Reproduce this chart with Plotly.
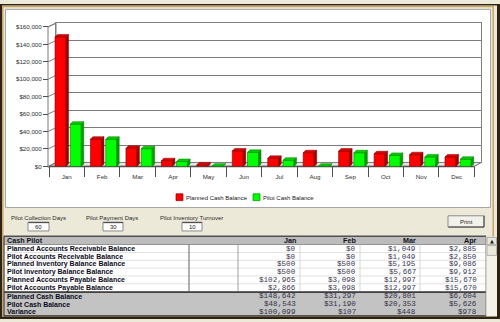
import plotly.graph_objects as go

W, H = 500, 322
def X(px): return px / W
def Y(py): return 1 - py / H

# ---------------- data ----------------
months = ['Jan', 'Feb', 'Mar', 'Apr', 'May', 'Jun', 'Jul', 'Aug', 'Sep', 'Oct', 'Nov', 'Dec']
planned_cash = [148642, 31297, 20801, 6604, 1800, 17800, 9300, 15700, 17600, 14600, 13500, 10900]
pilot_cash = [48543, 31190, 20353, 5626, 300, 16200, 7100, 200, 15700, 12700, 10900, 8200]
y_ticks = [0, 20000, 40000, 60000, 80000, 100000, 120000, 140000, 160000]
series_names = ['Planned Cash Balance', 'Pilot Cash Balance']

input_labels = ['Pilot Collection Days', 'Pilot Payment Days', 'Pilot Inventory Turnover']
input_values = ['60', '30', '10']

table_title = 'Cash Pilot'
table_months = ['Jan', 'Feb', 'Mar', 'Apr']
detail_rows = ['Planned Accounts Receivable Balance', 'Pilot Accounts Receivable Balance',
               'Planned Inventory Balance Balance', 'Pilot Inventory Balance Balance',
               'Planned Accounts Payable Balance', 'Pilot Accounts Payable Balance']
detail_values = [
    [0, 0, 1049, 2885],
    [0, 0, 1049, 2850],
    [500, 500, 5195, 9086],
    [500, 500, 5667, 9912],
    [102965, 3098, 12997, 15670],
    [2866, 3098, 12997, 15670],
]
summary_rows = ['Planned Cash Balance', 'Pilot Cash Balance', 'Variance']
summary_values = [
    [148642, 31297, 20801, 6604],
    [48543, 31190, 20353, 5626],
    [100099, 107, 448, 978],
]

# ---------------- geometry (pixels) ----------------
FX0, FX1 = 49, 474.4       # front floor x-extent
FY0, FY1 = 166, 23.5       # front $0 / $160k
DX, DY = 7, 4              # wall depth
BX0, BX1 = FX0 + DX, FX1 + DX
BY0, BY1 = FY0 - DY, FY1 - DY
WALL_X = 48

shapes, ann = [], []

def rect(x0, y0, x1, y1, fill=None, line=None, lw=1, layer='below'):
    shapes.append(dict(type='rect', xref='paper', yref='paper', x0=X(x0), x1=X(x1), y0=Y(y1), y1=Y(y0),
                       fillcolor=fill or 'rgba(0,0,0,0)',
                       line=dict(color=line or 'rgba(0,0,0,0)', width=lw if line else 0), layer=layer))

def seg(x0, y0, x1, y1, color, lw=1, layer='below'):
    shapes.append(dict(type='line', xref='paper', yref='paper', x0=X(x0), y0=Y(y0), x1=X(x1), y1=Y(y1),
                       line=dict(color=color, width=lw), layer=layer))

def poly(pts, fill, line, lw=1, layer='below'):
    path = 'M ' + ' L '.join(f'{X(a)},{Y(b)}' for a, b in pts) + ' Z'
    shapes.append(dict(type='path', xref='paper', yref='paper', path=path, fillcolor=fill,
                       line=dict(color=line, width=lw), layer=layer))

def text(x, y, s, size, color='#000000', anchor='left', family='Liberation Sans', weight='normal'):
    ann.append(dict(x=X(x), y=Y(y), xref='paper', yref='paper', text=s, showarrow=False,
                    xanchor=anchor, yanchor='middle', borderpad=0,
                    font=dict(family=family, size=size, color=color, weight=weight)))

# window frame
rect(0, 0, 500, 322, fill='#2e2212')
rect(2, 1.5, 497, 319.5, fill='#ece9d8')
rect(2.8, 2.5, 493.2, 318.5, line='#c9a468', lw=1.5)
# chart panel
rect(5.5, 5.5, 490.5, 208, fill='#ffffff', line='#a5a5a5')

# floor and left wall
poly([(FX0, FY0), (FX1, FY0), (BX1, BY0), (BX0, BY0)], '#e4e4e4', '#6e6e6e', 1)
poly([(WALL_X, FY0 + 1), (WALL_X, FY1), (BX0, BY1), (BX0, BY0)], '#ffffff', '#7a7a7a', 1)
for v in y_ticks:
    yf = FY0 - v * (FY0 - FY1) / 160000
    seg(WALL_X, yf, BX0, yf - DY, '#7f7f7f', 1)
seg(FX0, FY0, FX1, FY0, '#505050', 1.5)

# custom legend
leg = [(176, '#ff0000', '#8a0000'), (253, '#00ff00', '#008a00')]
for (lx, fc, lc), name in zip(leg, series_names):
    rect(lx, 194, lx + 7, 201, fill=fc, line=lc, lw=0.7)
    text(lx + 9, 197.8, name, 6, '#202020')

# input fields
in_cx = [38, 112, 191]
box_x = [(28, 49), (103, 123), (182, 202)]
for cx, (bx0, bx1), lab, val in zip(in_cx, box_x, input_labels, input_values):
    text(cx, 218.5, lab, 6, '#2a2a2a', anchor='center')
    rect(bx0, 223, bx1, 232, fill='#ffffff', line='#8a8a8a', lw=1)
    seg(bx0 + 0.5, 223.5, bx1, 223.5, '#404040', 1)
    text((bx0 + bx1) / 2, 227.8, val, 6, '#202020', anchor='center')

# Print button
rect(448, 216.5, 484, 228, fill='#f2f1ec', line='#8c8c8c', lw=1)
seg(448.5, 228, 484, 228, '#404040', 1)
seg(484, 216.5, 484, 228, '#404040', 1)
text(466, 222.5, 'Print', 6, '#202020', anchor='center')

# table
TL, TR = 4, 486
col_right = [297, 357, 417, 478]
rect(TL, 237.5, TR, 246, fill='#bcbcbc')
seg(TL, 237.5, TR, 237.5, '#505050', 1.5)
seg(TL, 246, TR, 246, '#606060', 1)
rect(TL, 246, TR, 294, fill='#ffffff')
for k in range(1, 6):
    seg(TL, 246 + 8 * k, TR, 246 + 8 * k, '#e2e2e2', 1)
for vx, c in [(189, '#7a7a7a'), (238, '#a0a0a0'), (300, '#d6d6d6'), (360, '#d6d6d6'), (420, '#d6d6d6')]:
    seg(vx, 246, vx, 294, c, 1.2 if vx == 189 else 1)
rect(TL, 294, TR, 318.5, fill='#c3c3c3')
seg(TL, 294.5, TR, 294.5, '#404040', 1.6)
seg(TL, 318.8, TR, 318.8, '#303030', 1.2)
seg(TL, 237.5, TL, 319, '#404040', 1.2)
seg(TR, 237.5, TR, 319, '#808080', 1)

LAB_SIZE = 7.0
text(6, 242, table_title, LAB_SIZE + 0.2, '#101018', weight='bold')
for cr, m in zip(col_right, table_months):
    text(cr, 242, m, LAB_SIZE + 0.2, '#101018', anchor='right', weight='bold')

def money(v):
    return f'${v:,}'

VAL_FONT, VAL_SIZE = 'Liberation Mono', 7.6
for r, (lab, vals) in enumerate(zip(detail_rows, detail_values)):
    yc = 250.2 + 8 * r
    text(6, yc, lab, LAB_SIZE, '#0c0c20', weight='bold')
    for cr, v in zip(col_right, vals):
        text(cr, yc, money(v), VAL_SIZE, '#3a3a52', anchor='right', family=VAL_FONT)
for r, (lab, vals) in enumerate(zip(summary_rows, summary_values)):
    yc = 298.8 + 8 * r
    text(6, yc, lab, LAB_SIZE, '#0c0c20', weight='bold')
    for cr, v in zip(col_right, vals):
        text(cr, yc, money(v), VAL_SIZE, '#33334a', anchor='right', family=VAL_FONT)

# scrollbar
rect(486.5, 237.5, 497, 319, fill='#f4f2ea')
rect(487, 238.5, 496.5, 246, fill='#e8e6dc', line='#a8a8a8', lw=1)
text(491.8, 242.3, '▲', 5, '#202020', anchor='center', family='DejaVu Sans')
rect(487, 247, 496.5, 257, fill='#ece9d8', line='#b4b4b4', lw=1)

# ---------------- traces ----------------
fig = go.Figure()
fig.add_trace(go.Scatter(x=[None], y=[None], xaxis='x', yaxis='y', showlegend=False, hoverinfo='skip'))

bar_w, off_red, off_green = 0.31, -0.33, 0.10
cat_px = (FX1 - FX0) / 12
ddx = 2.5 / cat_px
ddy = 2.5 * 160000 / (FY0 - FY1)

series = [(planned_cash, off_red, '#ff0000', '#7a0000', '#a00000', '#e00000'),
          (pilot_cash, off_green, '#00ff00', '#007a00', '#00a000', '#00d000')]
xs = list(range(len(months)))
for vals, off, fc, lc, sc, tc in series:
    fig.add_trace(go.Bar(x=xs, y=vals, width=bar_w, offset=off, xaxis='x2', yaxis='y2',
                         marker=dict(color=fc, line=dict(color=lc, width=0.6)),
                         showlegend=False, hoverinfo='skip'))
    for i, v in zip(xs, vals):
        xl, xr = i + off, i + off + bar_w
        shapes.append(dict(type='path', xref='x2', yref='y2', layer='above',
                           path=f'M {xr},0 L {xr+ddx},{ddy} L {xr+ddx},{v+ddy} L {xr},{v} Z',
                           fillcolor=sc, line=dict(color=lc, width=0.5)))
        shapes.append(dict(type='path', xref='x2', yref='y2', layer='above',
                           path=f'M {xl},{v} L {xl+ddx},{v+ddy} L {xr+ddx},{v+ddy} L {xr},{v} Z',
                           fillcolor=tc, line=dict(color=lc, width=0.5)))

fig.update_layout(
    width=W, height=H, margin=dict(l=0, r=0, t=0, b=0),
    paper_bgcolor='#ece9d8', plot_bgcolor='rgba(0,0,0,0)',
    showlegend=False, barmode='overlay',
    xaxis=dict(domain=[X(BX0), X(BX1)], range=[-0.5, 11.5], anchor='y', showgrid=False,
               zeroline=False, showticklabels=False, ticks='', showline=True, mirror=True,
               linecolor='#808080', linewidth=1, fixedrange=True),
    yaxis=dict(domain=[Y(BY0), Y(BY1)], range=[0, 160000], anchor='x', tickvals=y_ticks,
               showgrid=True, gridcolor='#7c7c7c', gridwidth=1, zeroline=False,
               showticklabels=False, ticks='', showline=True, mirror=True,
               linecolor='#808080', linewidth=1, fixedrange=True),
    xaxis2=dict(domain=[X(FX0), X(FX1)], range=[-0.5, 11.5], anchor='y2', showgrid=False,
                zeroline=False, tickvals=xs, ticktext=months, ticks='',
                tickfont=dict(family='Liberation Sans', size=6.2, color='#303030'),
                ticklabelstandoff=5,
                minor=dict(tickvals=[i - 0.5 for i in range(13)], ticks='outside', ticklen=10,
                           tickcolor='#505050', tickwidth=1),
                showline=False, fixedrange=True),
    yaxis2=dict(domain=[Y(FY0), Y(FY1)], range=[0, 160000], anchor='free', position=X(WALL_X),
                side='left', tickvals=y_ticks, ticktext=[f'${v:,}' for v in y_ticks],
                ticks='outside', ticklen=5, tickcolor='#505050',
                tickfont=dict(family='Liberation Sans', size=6.2, color='#303030'),
                showgrid=False, zeroline=False, showline=False, fixedrange=True),
    shapes=shapes, annotations=ann,
)

fig.write_html('out.html')
